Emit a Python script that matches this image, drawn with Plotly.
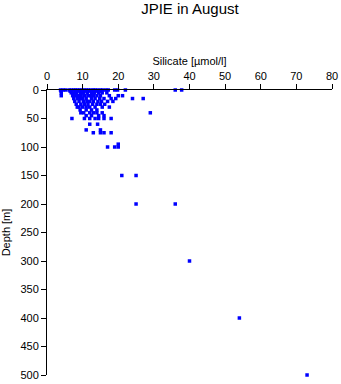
import plotly.graph_objects as go

# (depth [m], silicate [umol/l]), grouped by depth
depth_levels = [0, 2, 5, 10, 15, 20, 25, 30, 35, 40, 45, 50, 60, 70, 75, 95, 100, 150, 200, 300, 400, 500]
silicate_by_depth = [
    [3.8, 4.5, 5.2, 6.2, 6.8, 7.5, 8.0, 8.6, 9.2, 9.8, 10.4, 11.0, 11.6, 12.3, 13.0, 13.5, 14.2, 15.0, 15.6, 16.5, 17.2, 19.0, 19.8, 22.0, 36.0, 37.8],
    [4.0, 6.5, 8.2, 9.0, 10.5, 12.0, 13.2, 14.0, 15.2],
    [4.0, 6.8, 7.5, 8.3, 9.4, 10.2, 11.3, 12.5, 13.3, 14.5, 15.5, 16.8],
    [4.0, 7.2, 8.0, 8.8, 9.6, 10.6, 11.5, 12.2, 13.0, 14.0, 15.0, 17.5, 20.0, 21.2],
    [7.5, 8.5, 9.3, 10.0, 11.0, 12.5, 13.5, 14.8, 16.0, 18.0, 19.3, 24.0, 27.0],
    [7.8, 9.0, 10.2, 11.2, 12.0, 13.0, 14.3, 15.3, 17.0, 18.5],
    [8.2, 9.5, 10.5, 11.5, 12.8, 14.0, 15.0, 16.2],
    [8.5, 9.0, 10.0, 11.0, 12.0, 13.5, 15.5, 17.5],
    [9.3, 11.0, 12.5, 14.0],
    [9.5, 10.3, 12.0, 13.0, 14.0, 15.5, 29.0],
    [11.0, 12.5, 14.5, 16.0],
    [7.0, 10.5, 12.0, 13.5, 14.5, 16.0, 18.0],
    [12.0, 14.2],
    [11.0, 15.0],
    [13.0, 15.0, 16.0, 18.0],
    [20.0],
    [17.0, 19.0, 20.0],
    [21.0, 25.0],
    [25.0, 36.0],
    [40.0],
    [54.0],
    [73.0],
]

depth = []
silicate = []
for d, vals in zip(depth_levels, silicate_by_depth):
    for v in vals:
        depth.append(d)
        silicate.append(v)

x_ticks = [0, 10, 20, 30, 40, 50, 60, 70, 80]
y_ticks = [0, 50, 100, 150, 200, 250, 300, 350, 400, 450, 500]

FONT = "Liberation Sans, Arial, sans-serif"

fig = go.Figure()
fig.add_trace(go.Scatter(
    x=silicate, y=depth, mode="markers",
    marker=dict(symbol="square", size=3.5, color="#0000ff", line=dict(width=0)),
    cliponaxis=False, showlegend=False,
))

fig.update_layout(
    width=341, height=384, autosize=False,
    margin=dict(l=47, r=9, t=90, b=9, autoexpand=False),
    paper_bgcolor="white", plot_bgcolor="white",
    font=dict(family=FONT, size=11, color="black"),
    title=dict(text="JPIE in August", x=0.557, xanchor="center",
               y=1 - 9 / 384, yanchor="middle", yref="container",
               font=dict(family=FONT, size=15, color="black")),
    xaxis=dict(side="top", range=[0, 80], tickvals=x_ticks, automargin=False,
               showgrid=False, zeroline=False,
               showline=True, linecolor="black", linewidth=1,
               ticks="outside", ticklen=5, tickcolor="black", tickwidth=1,
               tickfont=dict(size=11),
               title=dict(text="Silicate [µmol/l]", standoff=1,
                          font=dict(size=11))),
    yaxis=dict(range=[500, 0], tickvals=y_ticks, automargin=False,
               showgrid=False, zeroline=False,
               showline=True, linecolor="black", linewidth=1,
               ticks="outside", ticklen=5, tickcolor="black", tickwidth=1,
               tickfont=dict(size=11),
               title=dict(text="Depth [m]", standoff=7,
                          font=dict(size=11))),
)

fig.write_html("out.html")
